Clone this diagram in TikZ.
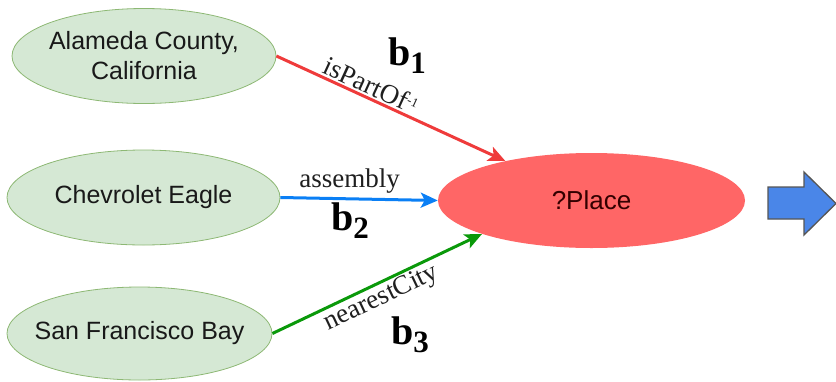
\documentclass[tikz,border=0pt]{standalone}
\usepackage{fontspec}
\setmainfont{Liberation Serif}
\newfontfamily\labelsans{Liberation Sans}
\usetikzlibrary{shapes.geometric,arrows.meta}
\definecolor{gfill}{HTML}{D5E8D4}
\definecolor{gdraw}{HTML}{8DB874}
\definecolor{pfill}{HTML}{FF6666}
\definecolor{ered}{HTML}{EF3B3B}
\definecolor{eblue}{HTML}{0A7FF5}
\definecolor{egreen}{HTML}{0A990A}
\definecolor{bigblue}{HTML}{4A86E8}
\definecolor{bigdraw}{HTML}{555555}
\begin{document}
\begin{tikzpicture}[x=1pt,y=-1pt,
  ent/.style={ellipse, fill=gfill, draw=gdraw, line width=0.8pt, inner xsep=-20pt, inner ysep=-10pt,
    font=\labelsans\fontsize{25}{30}\selectfont, text=black!90, align=center},
  var/.style={ellipse, fill=pfill, draw=none, inner xsep=-20pt, inner ysep=-10pt,
    font=\labelsans\fontsize{26}{30}\selectfont, text=black!80!red},
  edge/.style={line width=3pt, -{Stealth[length=17pt,width=15pt,inset=4pt]}},
  elabel/.style={font=\fontsize{27}{30}\selectfont, text=black!88, inner sep=2pt},
  blabel/.style={font=\bfseries\fontsize{40}{40}\selectfont, inner sep=0pt, text=black},
  bigarrow/.style={fill=bigblue, draw=bigdraw, line width=1.3pt, line join=miter}
]
\useasboundingbox (0,0) rectangle (836,381);

\node[ent, minimum width=264pt, minimum height=95pt] (ala) at (144,56) {Alameda County,\\California};
\node[ent, minimum width=273pt, minimum height=95pt] (chev) at (143.5,197.5) {Chevrolet Eagle};
\node[ent, minimum width=265pt, minimum height=93pt] (sfb) at (139.5,333.5) {San Francisco Bay};
\node[var, minimum width=307pt, minimum height=95pt] (pl) at (591.5,200.5) {\raisebox{-4pt}{?Place}};

\draw[edge, ered] (ala.east) -- node[elabel, sloped, above, pos=0.39] (l1)
  {isPartOf\raisebox{7pt}{\fontsize{13}{13}\selectfont -1}} (pl);
\draw[edge, eblue] (chev.east) -- node[elabel, above, pos=0.44, inner sep=4pt] (l2) {assembly} (pl.west);
\draw[edge, egreen] (sfb.east) -- node[elabel, sloped, below, pos=0.49] (l3) {nearestCity} (pl.197);

\node[blabel, anchor=base west] (b1) at (388,65) {b\raisebox{-8pt}{\fontsize{31}{31}\selectfont 1}};
\node[blabel, anchor=base west] (b2) at (331,230) {b\raisebox{-8pt}{\fontsize{31}{31}\selectfont 2}};
\node[blabel, anchor=base west] (b3) at (391,344) {b\raisebox{-8pt}{\fontsize{31}{31}\selectfont 3}};

\draw[bigarrow] (768,187) -- (804,187) -- (804,172) -- (836,203.5) -- (804,235) -- (804,219) -- (768,219) -- cycle;
\end{tikzpicture}
\end{document}
